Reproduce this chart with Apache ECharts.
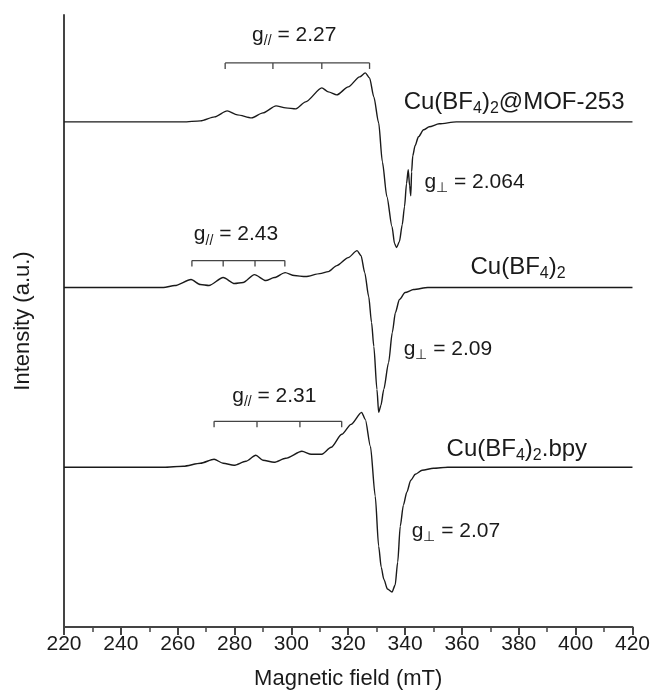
<!DOCTYPE html>
<html style="height: 100%">
<head>
    <meta charset="utf-8">
    <title>EPR spectra</title>
</head>
<body style="height: 100%; margin: 0">
    <div id="container" style="width: 653px; height: 695px"></div>
    <script type="text/javascript" src="https://cdn.jsdelivr.net/npm/echarts@6/dist/echarts.min.js"></script>
    <script type="text/javascript">
        // field (mT), intensity relative to each trace baseline (a.u.)
        var mofData = [
            [220, 0], [235, 0], [250, 0], [262, 0], [268, 1], [273, 5], [277.4, 11], [281, 7],
            [286, 4], [290, 9], [294.6, 16], [298, 14], [301.6, 13], [305, 20], [310.7, 34],
            [313, 30], [316, 27], [320, 35], [324, 45], [326, 49], [327.5, 44], [329, 25],
            [330.7, -1], [332, -40], [333.6, -75], [335.4, -105], [336.3, -122], [337, -126],
            [338, -120], [339, -103], [339.8, -85], [340.5, -62], [341.1, -48], [341.6, -64],
            [342, -74], [342.3, -50], [342.7, -34], [343.5, -24], [344.7, -15], [346.5, -8],
            [348.5, -5], [352, -2], [358, 0], [380, 0], [400, 0], [420, 0]
        ];
        var cuData = [
            [220, 0], [240, 0], [255, 0], [259, 2], [264.7, 8], [268, 3], [271, 2], [276, 10],
            [280, 4], [283, 5], [287, 13], [291, 7], [294, 10], [297.8, 15], [301, 12], [305, 11],
            [310, 14], [313, 16], [316, 22], [320, 30], [323.1, 37], [324.5, 32], [325.8, 15],
            [327.2, -9], [328.2, -35], [329, -59], [330.1, -102], [330.7, -125], [331.5, -118],
            [332.5, -102], [334.2, -75], [335.5, -45], [336.6, -25], [338, -12], [340, -5],
            [343, -2], [348, 0], [380, 0], [420, 0]
        ];
        var bpyData = [
            [220, 0], [240, 0], [255, 0], [262, 1], [268, 4], [272.8, 8], [276, 4], [279.8, 2],
            [284, 6], [287.5, 12], [290, 7], [293.9, 5], [298, 9], [303.7, 16], [307, 13],
            [310.7, 13], [314, 20], [317.7, 33], [321, 43], [324.7, 55], [326, 48], [327.8, 21],
            [329.5, -29], [330.7, -79], [331.6, -100], [332.5, -112], [333.8, -122], [335.4, -125],
            [336.5, -118], [337.4, -95], [338.3, -59], [339.4, -38], [340.6, -25], [342, -13],
            [343.6, -7], [346, -3], [350, -1], [355, 0], [380, 0], [420, 0]
        ];
        var offsets = [506, 340, 160];

        // hyperfine brackets: [level, tick1, tick2, tick3, tick4]
        var brackets = [
            [565, 276.7, 293.5, 310.7, 327.5],
            [367, 265, 276, 287.2, 297.7],
            [206, 272.8, 287.9, 303, 317.7]
        ];

        // annotations: [field, level, text, align]
        var labels = [
            [301, 593, 'g{s|//} = 2.27', 'center'],
            [339.5, 525, 'Cu(BF{s|4}){s|2}@MOF-253', 'left'],
            [346.8, 446, 'g{s|⊥} = 2.064', 'left'],
            [280.5, 393, 'g{s|//} = 2.43', 'center'],
            [363, 360, 'Cu(BF{s|4}){s|2}', 'left'],
            [339.5, 278, 'g{s|⊥} = 2.09', 'left'],
            [294, 231, 'g{s|//} = 2.31', 'center'],
            [354.6, 178, 'Cu(BF{s|4}){s|2}.bpy', 'left'],
            [342.3, 96, 'g{s|⊥} = 2.07', 'left']
        ];

        var FONT = '"Liberation Sans", Arial, Helvetica, sans-serif';
        var INK = '#1a1a1a';

        function shift(data, off) {
            return data.map(function (p) { return [p[0], p[1] + off]; });
        }

        function traceSeries(data, off) {
            return {
                type: 'line',
                data: shift(data, off),
                showSymbol: false,
                smooth: 0.25,
                smoothMonotone: 'x',
                lineStyle: { color: INK, width: 1.4 },
                silent: true,
                z: 3
            };
        }

        function renderBracket(params, api) {
            var level = api.value(0);
            var pts = [];
            for (var i = 1; i <= 4; i++) pts.push(api.coord([api.value(i), level]));
            var children = [{
                type: 'line',
                shape: { x1: pts[0][0], y1: pts[0][1], x2: pts[3][0], y2: pts[3][1] },
                style: { stroke: '#444', lineWidth: 1.3 }
            }];
            pts.forEach(function (p) {
                children.push({
                    type: 'line',
                    shape: { x1: p[0], y1: p[1], x2: p[0], y2: p[1] + 6 },
                    style: { stroke: '#444', lineWidth: 1.3 }
                });
            });
            return { type: 'group', children: children };
        }

        function renderLabel(params, api) {
            var item = labels[params.dataIndex];
            var p = api.coord([item[0], item[1]]);
            var isName = item[2].indexOf('Cu') === 0;
            return {
                type: 'text',
                x: p[0],
                y: p[1],
                style: {
                    text: item[2],
                    fill: INK,
                    font: (isName ? '24px ' : '21px ') + FONT,
                    align: item[3],
                    verticalAlign: 'middle',
                    lineHeight: isName ? 28 : 26,
                    rich: {
                        s: {
                            fontSize: isName ? 16 : 14,
                            fontFamily: FONT,
                            fill: INK,
                            lineHeight: 10,
                            verticalAlign: 'bottom'
                        }
                    }
                }
            };
        }

        var dom = document.getElementById('container');
        var myChart = echarts.init(dom, null, { renderer: 'canvas' });

        var option = {
            animation: false,
            backgroundColor: '#ffffff',
            grid: { left: 64, right: 19, top: 15, bottom: 67 },
            xAxis: {
                type: 'value',
                min: 220,
                max: 420,
                interval: 20,
                name: 'Magnetic field (mT)',
                nameLocation: 'middle',
                nameGap: 41,
                nameTextStyle: { fontFamily: FONT, fontSize: 22, color: INK },
                axisLine: { lineStyle: { color: '#444', width: 2 } },
                axisTick: { length: 8, lineStyle: { color: '#444', width: 2 } },
                minorTick: { show: true, splitNumber: 2, length: 5, lineStyle: { color: '#444', width: 1.5 } },
                axisLabel: { fontFamily: FONT, fontSize: 21, color: INK, margin: 7 },
                splitLine: { show: false }
            },
            yAxis: {
                type: 'value',
                min: 0,
                max: 613,
                name: 'Intensity (a.u.)',
                nameLocation: 'middle',
                nameGap: 30,
                nameTextStyle: { fontFamily: FONT, fontSize: 22, color: INK },
                axisLine: { show: true, lineStyle: { color: '#444', width: 2 } },
                axisTick: { show: false },
                axisLabel: { show: false },
                splitLine: { show: false }
            },
            series: [
                traceSeries(mofData, offsets[0]),
                traceSeries(cuData, offsets[1]),
                traceSeries(bpyData, offsets[2]),
                {
                    type: 'custom',
                    renderItem: renderBracket,
                    encode: { x: [1, 2, 3, 4], y: 0 },
                    data: brackets,
                    silent: true
                },
                {
                    type: 'custom',
                    renderItem: renderLabel,
                    encode: { x: 0, y: 1 },
                    data: labels.map(function (l) { return [l[0], l[1]]; }),
                    silent: true,
                    z: 5
                }
            ]
        };

        if (option && typeof option === 'object') {
            myChart.setOption(option, true);
        }
    </script>
</body>
</html>
